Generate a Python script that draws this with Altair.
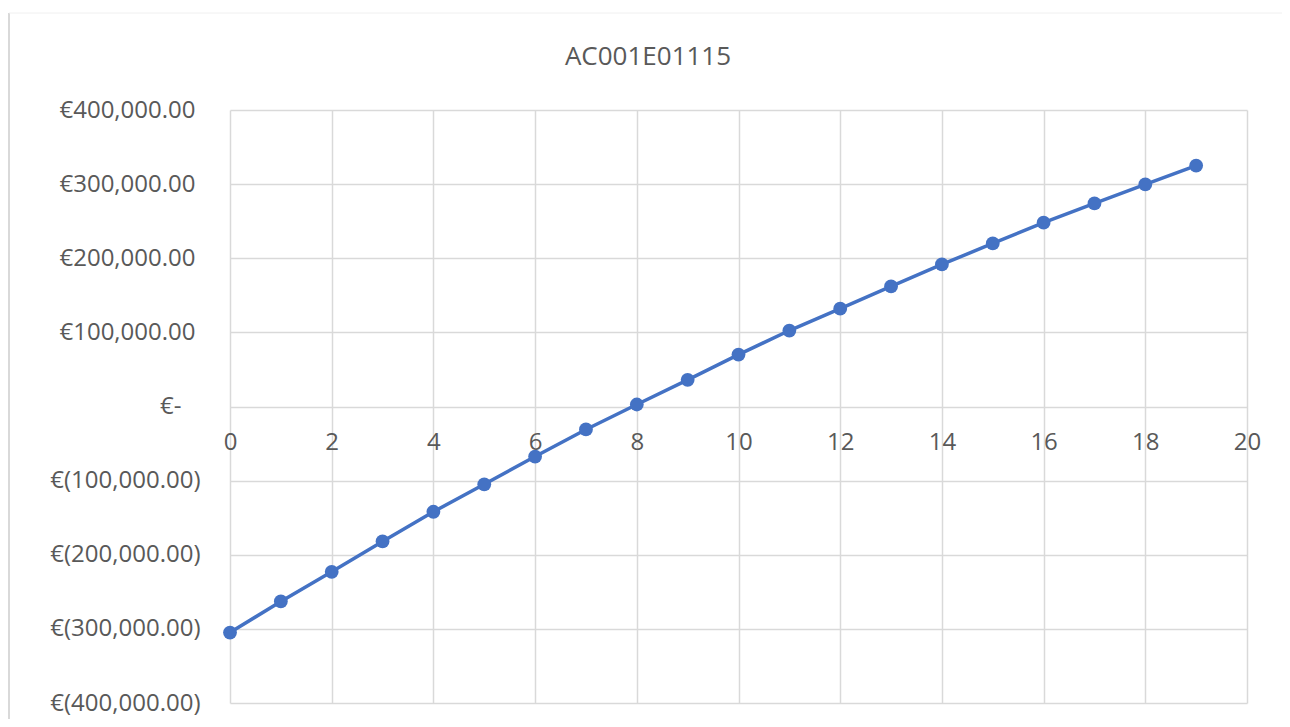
import altair as alt
import pandas as pd

years = list(range(20))
values = [-305000, -263000, -223000, -182000, -142000, -105000, -67500, -31000,
          2700, 36000, 70000, 102500, 132000, 162000, 191600, 220000, 248000,
          274000, 299600, 325000]
title_text = "AC001E01115"

df = pd.DataFrame({"year": years, "value": values})

W, H = 1017, 593
FONT = "Open Sans"
TXT = "#595959"
GRID = "#d9d9d9"
BLUE = "#4472C4"

label_expr = (
    "datum.value == 0 ? '€-' : "
    "(datum.value < 0 ? '€(' + format(-datum.value, ',.2f') + ')' : "
    "'€' + format(datum.value, ',.2f'))"
)

x = alt.X("year:Q", scale=alt.Scale(domain=[0, 20], nice=False),
          axis=alt.Axis(values=list(range(0, 21, 2)), title=None, domain=False,
                        ticks=False, grid=True, gridColor=GRID, gridWidth=1.5,
                        labelFont=FONT, labelFontSize=24, labelColor=TXT,
                        labelFlush=False, labelPadding=24, offset=-H / 2))
y = alt.Y("value:Q", scale=alt.Scale(domain=[-400000, 400000], nice=False),
          axis=alt.Axis(values=list(range(-400000, 400001, 100000)), title=None,
                        domain=False, ticks=False, grid=True, gridColor=GRID,
                        gridWidth=1.5, labelFont=FONT, labelFontSize=24,
                        labelColor=TXT, labelExpr=label_expr,
                        labelPadding={"condition": [
                            {"test": "datum.value < 0", "value": 30},
                            {"test": "datum.value == 0", "value": 49}],
                            "value": 35}))

line = alt.Chart(df).mark_line(color=BLUE, strokeWidth=3.5).encode(x=x, y=y)
pts = alt.Chart(df).mark_point(filled=True, color=BLUE, opacity=1, size=190).encode(
    x="year:Q", y="value:Q")

title_df = pd.DataFrame({"t": [title_text]})
title = alt.Chart(title_df).mark_text(font=FONT, fontSize=26, color=TXT,
                                      align="center", baseline="middle").encode(
    text="t:N", x=alt.value(418), y=alt.value(-53))

frame = alt.Chart(title_df).mark_rule(color=GRID, strokeWidth=2).encode(
    x=alt.value(-221), y=alt.value(-97), y2=alt.value(H + 20))
top = alt.Chart(title_df).mark_rule(color="#f0f0f0", strokeWidth=1).encode(
    x=alt.value(-221), x2=alt.value(W + 50), y=alt.value(-97))

chart = alt.layer(frame, top, line, pts, title).properties(
    width=W, height=H,
    autosize=alt.AutoSizeParams(type="none"),
    padding={"left": 222, "top": 102, "right": 35, "bottom": 16},
).configure_view(stroke=None)

chart.save("out.html", embed_options={"renderer": "svg", "actions": False})
